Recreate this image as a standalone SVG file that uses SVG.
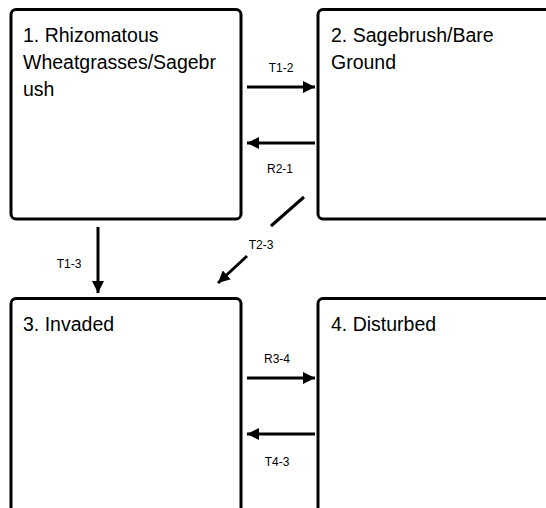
<svg xmlns="http://www.w3.org/2000/svg" width="546" height="508" viewBox="0 0 546 508">
<style>
.box{fill:#fff;stroke:#000;stroke-width:3}
.t{font-family:"Liberation Sans",Arial,sans-serif;font-size:19.5px;fill:#000}
.l{font-family:"Liberation Sans",Arial,sans-serif;font-size:12px;fill:#000;text-anchor:middle}
.c{stroke:#000;stroke-width:3;fill:none}
</style>
<defs>
<marker id="ah" markerWidth="4" markerHeight="4" refX="4" refY="2" orient="auto" markerUnits="strokeWidth" viewBox="0 0 4 4">
<path d="M0,0 L4,2 L0,4 Z" fill="#000"/>
</marker>
</defs>
<rect width="546" height="508" fill="#fff"/>
<g id="node1">
<rect class="box" x="11" y="9.5" width="230" height="209.5" rx="5"/>
<text class="t" x="23" y="42">1. Rhizomatous</text>
<text class="t" x="23" y="69">Wheatgrasses/Sagebr</text>
<text class="t" x="23" y="96">ush</text>
</g>
<g id="node2">
<rect class="box" x="318" y="9.5" width="240" height="209.5" rx="5"/>
<text class="t" x="331" y="42">2. Sagebrush/Bare</text>
<text class="t" x="331" y="69">Ground</text>
</g>
<g id="node3">
<rect class="box" x="11" y="298.5" width="230" height="230" rx="5"/>
<text class="t" x="23" y="331">3. Invaded</text>
</g>
<g id="node4">
<rect class="box" x="318" y="298.5" width="240" height="230" rx="5"/>
<text class="t" x="331" y="331">4. Disturbed</text>
</g>
<g id="connectors">
<line class="c" x1="247" y1="87" x2="315" y2="87" marker-end="url(#ah)"/>
<text class="l" x="281" y="72">T1-2</text>
<line class="c" x1="315" y1="143" x2="247" y2="143" marker-end="url(#ah)"/>
<text class="l" x="280" y="173">R2-1</text>
<line class="c" x1="304" y1="197" x2="271" y2="226"/>
<line class="c" x1="247" y1="256" x2="218" y2="283" marker-end="url(#ah)"/>
<text class="l" x="261" y="249">T2-3</text>
<line class="c" x1="98" y1="227" x2="98" y2="293" marker-end="url(#ah)"/>
<text class="l" x="69" y="268">T1-3</text>
<line class="c" x1="247" y1="378" x2="315" y2="378" marker-end="url(#ah)"/>
<text class="l" x="277" y="363">R3-4</text>
<line class="c" x1="315" y1="434" x2="247" y2="434" marker-end="url(#ah)"/>
<text class="l" x="277" y="466">T4-3</text>
</g>
</svg>
